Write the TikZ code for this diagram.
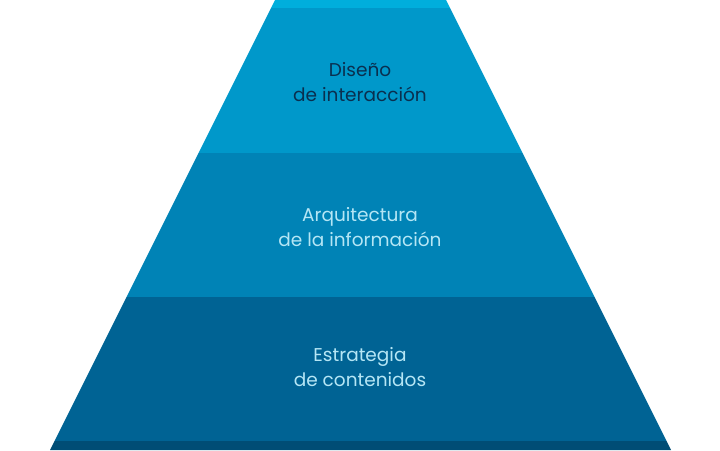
\documentclass[tikz,border=0pt]{standalone}
\usepackage{fontspec}
\setmainfont{Poppins}
\definecolor{capa0}{HTML}{00AEDC}
\definecolor{capa1}{HTML}{0098CA}
\definecolor{capa2}{HTML}{0083B6}
\definecolor{capa3}{HTML}{006394}
\definecolor{capa4}{HTML}{004D75}
\definecolor{textoosc}{HTML}{0A2F4F}
\definecolor{textocla}{HTML}{B5E6F5}
\tikzset{
  etiqueta/.style={align=center,font=\fontsize{18.5}{25.5}\selectfont},
}
\begin{document}
\begin{tikzpicture}[x=1pt,y=-1pt]
\useasboundingbox (0,0) rectangle (720,450);
%draw the layers of the pyramid, edges run 0.5 per unit
\foreach \ya/\yb/\c in {0/8/capa0,8/153/capa1,153/297/capa2,297/441/capa3,441/450/capa4}
  \fill[\c] (275-0.5*\ya,\ya) -- (446+0.5*\ya,\ya) -- (446+0.5*\yb,\yb) -- (275-0.5*\yb,\yb) -- cycle;
%labels
\node[etiqueta,text=textoosc] (disenio) at (360,82) {Diseño\\de interacción};
\node[etiqueta,text=textocla] (arquitectura) at (360,227) {Arquitectura\\de la información};
\node[etiqueta,text=textocla] (estrategia) at (360,367) {Estrategia\\de contenidos};
\end{tikzpicture}
\end{document}
